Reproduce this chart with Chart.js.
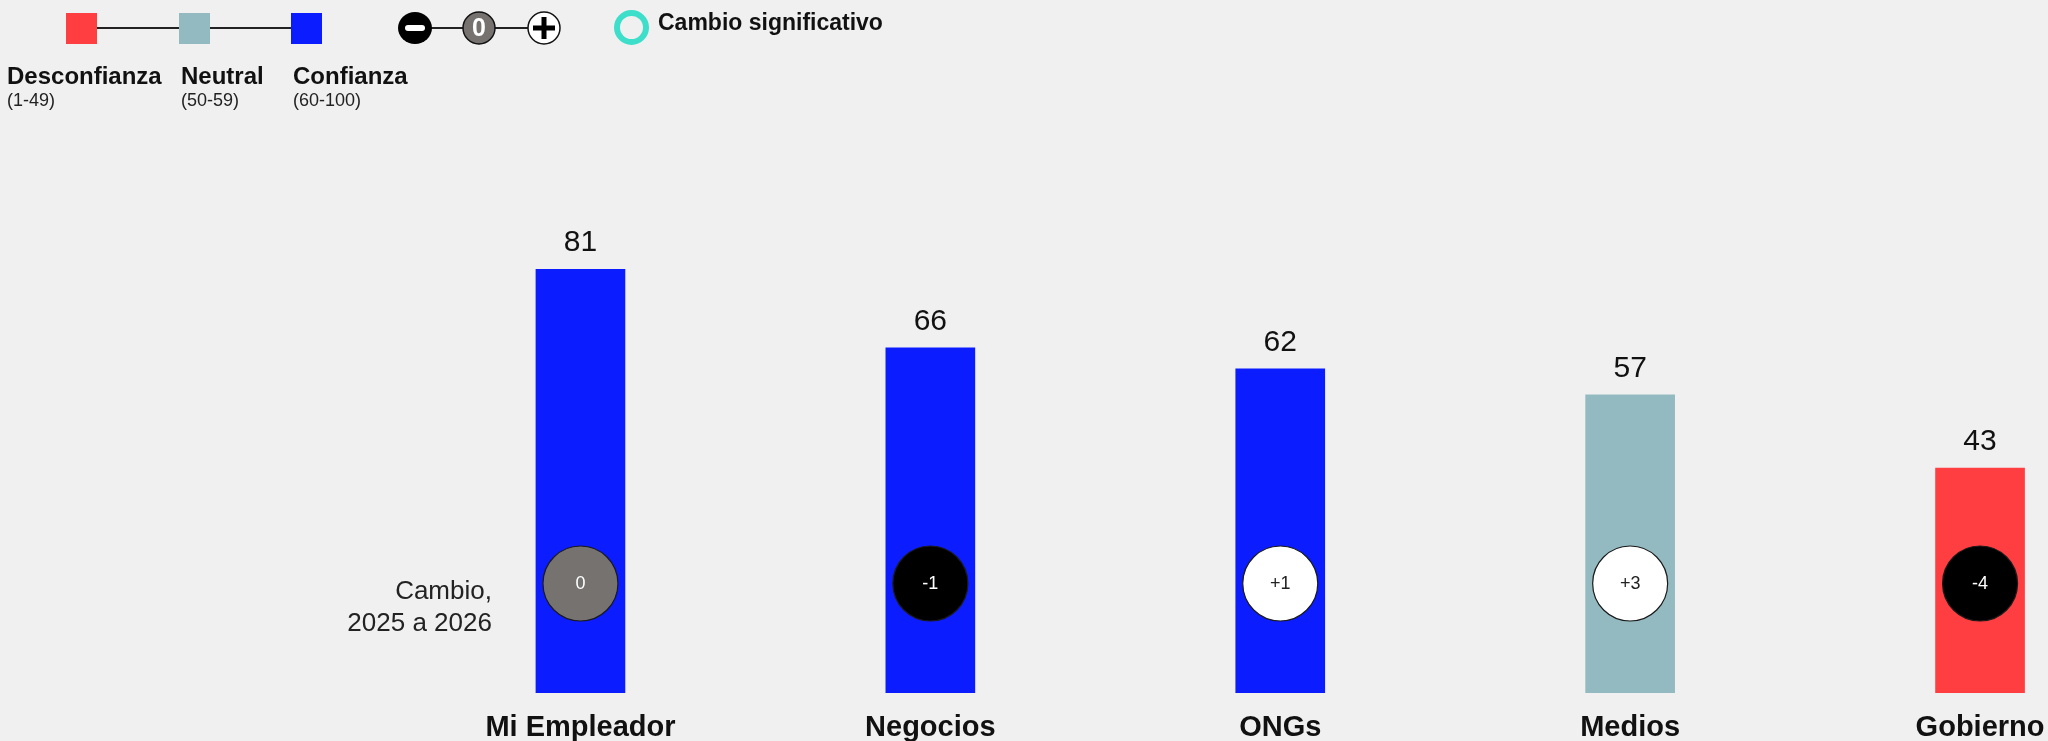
<!DOCTYPE html>
<html lang="es">
<head>
<meta charset="utf-8">
<title>Confianza en instituciones</title>
<script src="https://cdn.jsdelivr.net/npm/chart.js@4/dist/chart.umd.min.js"></script>
<style>
  html, body { margin: 0; padding: 0; background: #f0f0f0; overflow: hidden; }
  #wrap { position: relative; width: 2048px; height: 741px; overflow: hidden; background: #f0f0f0; }
  #chart { display: block; }
</style>
</head>
<body>
<div id="wrap"><canvas id="chart" width="2155" height="762"></canvas></div>
<script>
// Institutions and their trust index
const categories = ['Mi Empleador', 'Negocios', 'ONGs', 'Medios', 'Gobierno'];
const trustValues = [81, 66, 62, 57, 43];
// Point change from 2025 to 2026
const changeValues = [0, -1, 1, 3, -4];
// Whether the change is statistically significant
const significantChange = [false, false, false, false, false];

const FONT = '"Liberation Sans", Arial, Helvetica, sans-serif';
const COLORS = {
  distrust: '#ff3e41',
  neutral: '#93bac1',
  trust: '#0b1cff',
  changeZero: '#767270',
  significant: '#3ddfcb',
  ink: '#111111',
  text: '#222222'
};

function trustColor(v) {
  if (v < 50) return COLORS.distrust;
  if (v < 60) return COLORS.neutral;
  return COLORS.trust;
}

// Value labels above the bars
const valueLabels = {
  id: 'valueLabels',
  afterDatasetsDraw(chart) {
    const ctx = chart.ctx;
    const meta = chart.getDatasetMeta(0);
    ctx.save();
    ctx.font = '30px ' + FONT;
    ctx.fillStyle = COLORS.ink;
    ctx.textAlign = 'center';
    ctx.textBaseline = 'alphabetic';
    meta.data.forEach((bar, i) => {
      ctx.fillText(String(trustValues[i]), bar.x, bar.y - 18);
    });
    ctx.restore();
  }
};

// Change bubbles sitting near the foot of each bar, plus the row caption
const changeBubbles = {
  id: 'changeBubbles',
  afterDatasetsDraw(chart) {
    const ctx = chart.ctx;
    const meta = chart.getDatasetMeta(0);
    const cy = chart.chartArea.bottom - 109.5;
    const r = 37.5;
    ctx.save();
    meta.data.forEach((bar, i) => {
      const d = changeValues[i];
      let fill, txt;
      if (d === 0) { fill = COLORS.changeZero; txt = '#ffffff'; }
      else if (d < 0) { fill = '#000000'; txt = '#ffffff'; }
      else { fill = '#ffffff'; txt = COLORS.text; }
      ctx.beginPath();
      ctx.arc(bar.x, cy, r, 0, Math.PI * 2);
      ctx.fillStyle = fill;
      ctx.fill();
      ctx.lineWidth = 1.2;
      ctx.strokeStyle = significantChange[i] ? COLORS.significant : '#1a1a1a';
      if (significantChange[i]) ctx.lineWidth = 6;
      ctx.stroke();
      ctx.font = '18px ' + FONT;
      ctx.fillStyle = txt;
      ctx.textAlign = 'center';
      ctx.textBaseline = 'middle';
      const label = d > 0 ? '+' + d : String(d);
      ctx.fillText(label, bar.x, cy + 1);
    });
    // Row caption to the left of the first bar
    const first = meta.data[0];
    const rightEdge = first.x - first.width / 2 - 44;
    ctx.font = '26px ' + FONT;
    ctx.fillStyle = COLORS.text;
    ctx.textAlign = 'right';
    ctx.textBaseline = 'middle';
    ctx.fillText('Cambio,', rightEdge, cy + 8);
    ctx.fillText('2025 a 2026', rightEdge, cy + 40);
    ctx.restore();
  }
};

// Custom key: trust scale, change symbols, significance ring
const keyPanel = {
  id: 'keyPanel',
  afterDraw(chart) {
    const ctx = chart.ctx;
    ctx.save();
    // connector line across the three swatches
    ctx.strokeStyle = '#222';
    ctx.lineWidth = 2;
    ctx.beginPath();
    ctx.moveTo(82, 28); ctx.lineTo(306, 28);
    ctx.stroke();
    const swatches = [
      { x: 66, color: COLORS.distrust, name: 'Desconfianza', range: '(1-49)', tx: 7 },
      { x: 179, color: COLORS.neutral, name: 'Neutral', range: '(50-59)', tx: 181 },
      { x: 291, color: COLORS.trust, name: 'Confianza', range: '(60-100)', tx: 293 }
    ];
    swatches.forEach(s => {
      ctx.fillStyle = s.color;
      ctx.fillRect(s.x, 13, 31, 31);
      ctx.fillStyle = COLORS.ink;
      ctx.font = 'bold 24px ' + FONT;
      ctx.textAlign = 'left';
      ctx.textBaseline = 'alphabetic';
      ctx.fillText(s.name, s.tx, 84);
      ctx.fillStyle = COLORS.text;
      ctx.font = '18px ' + FONT;
      ctx.fillText(s.range, s.tx, 106);
    });

    // change symbols: minus, zero, plus
    ctx.strokeStyle = '#222';
    ctx.lineWidth = 2;
    ctx.beginPath();
    ctx.moveTo(420, 28); ctx.lineTo(540, 28);
    ctx.stroke();

    ctx.beginPath();
    ctx.ellipse(415, 28, 17, 16, 0, 0, Math.PI * 2);
    ctx.fillStyle = '#000';
    ctx.fill();
    ctx.strokeStyle = '#ffffff';
    ctx.lineCap = 'round';
    ctx.lineWidth = 6;
    ctx.beginPath();
    ctx.moveTo(408, 28); ctx.lineTo(422, 28);
    ctx.stroke();

    ctx.beginPath();
    ctx.ellipse(479, 28, 16, 16, 0, 0, Math.PI * 2);
    ctx.fillStyle = COLORS.changeZero;
    ctx.fill();
    ctx.lineWidth = 1.5;
    ctx.strokeStyle = '#111';
    ctx.stroke();
    ctx.fillStyle = '#ffffff';
    ctx.font = 'bold 25px ' + FONT;
    ctx.textAlign = 'center';
    ctx.textBaseline = 'middle';
    ctx.fillText('0', 479, 29);

    ctx.beginPath();
    ctx.ellipse(544, 28, 16, 16, 0, 0, Math.PI * 2);
    ctx.fillStyle = '#ffffff';
    ctx.fill();
    ctx.lineWidth = 1.5;
    ctx.strokeStyle = '#111';
    ctx.stroke();
    ctx.strokeStyle = '#000';
    ctx.lineCap = 'butt';
    ctx.lineWidth = 5;
    ctx.beginPath();
    ctx.moveTo(533, 28); ctx.lineTo(555, 28);
    ctx.moveTo(544, 17); ctx.lineTo(544, 39);
    ctx.stroke();

    // significance ring
    ctx.beginPath();
    ctx.arc(631.5, 27.5, 14.5, 0, Math.PI * 2);
    ctx.strokeStyle = COLORS.significant;
    ctx.lineWidth = 6;
    ctx.stroke();
    ctx.fillStyle = COLORS.ink;
    ctx.font = 'bold 23px ' + FONT;
    ctx.textAlign = 'left';
    ctx.textBaseline = 'alphabetic';
    ctx.fillText('Cambio significativo', 658, 30);
    ctx.restore();
  }
};

new Chart(document.getElementById('chart'), {
  type: 'bar',
  data: {
    labels: categories,
    datasets: [{
      data: trustValues,
      backgroundColor: trustValues.map(trustColor),
      borderWidth: 0,
      barThickness: 89
    }]
  },
  options: {
    responsive: false,
    animation: false,
    devicePixelRatio: 1,
    layout: { padding: { left: 405.5, right: 0, top: 170, bottom: 0 } },
    plugins: { legend: { display: false }, tooltip: { enabled: false } },
    scales: {
      x: {
        grid: { display: false, drawTicks: false },
        border: { display: false },
        ticks: {
          color: COLORS.ink,
          padding: 20,
          maxRotation: 0,
          autoSkip: false,
          font: { family: FONT, size: 29, weight: 'bold', lineHeight: 1.0 }
        }
      },
      y: {
        display: false,
        min: 0,
        max: 100
      }
    }
  },
  plugins: [valueLabels, changeBubbles, keyPanel]
});
</script>
</body>
</html>
